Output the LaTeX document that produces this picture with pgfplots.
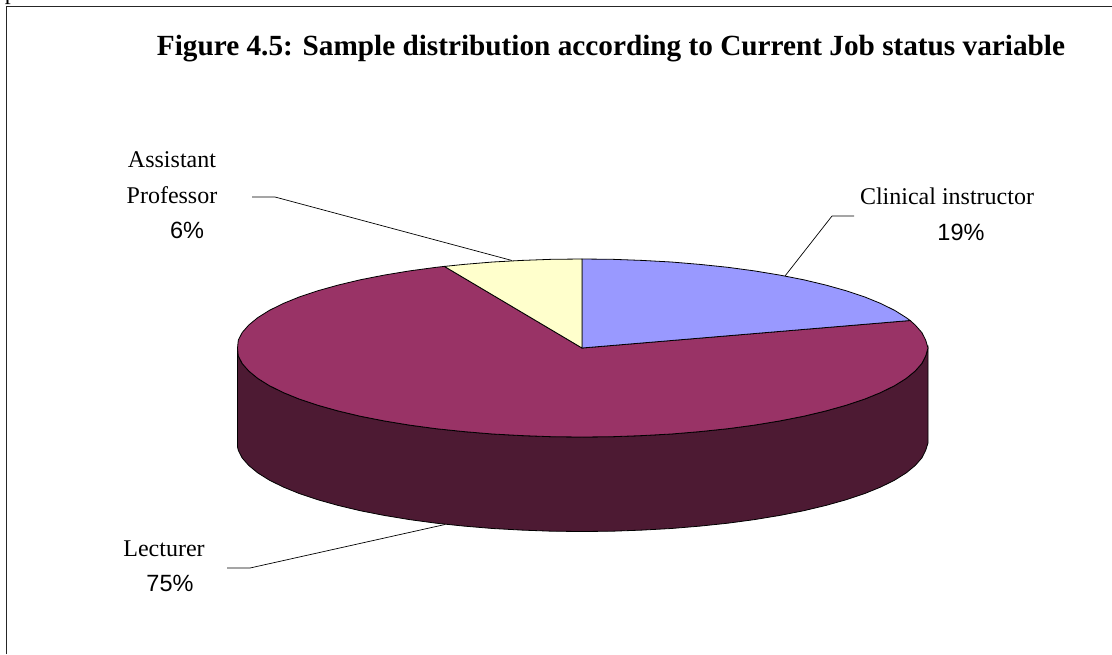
\documentclass[border=0pt]{standalone}
\usepackage{fontspec}
\setmainfont{Liberation Serif}
\newfontfamily\arial{Liberation Sans}
\usepackage{pgfplots}
\pgfplotsset{compat=1.18}
\definecolor{side}{HTML}{4D1A33}
\definecolor{lect}{HTML}{993366}
\definecolor{clin}{HTML}{9999FF}
\definecolor{asst}{HTML}{FFFFCC}
\newcommand{\lab}{\fontsize{24}{28}\selectfont}
\newcommand{\pct}{\arial\fontsize{23.5}{28}\selectfont}
\begin{document}
\begin{tikzpicture}
\path[use as bounding box] (0,0) rectangle (1112pt,654pt);
\begin{axis}[
    at={(0,0)}, anchor=south west,
    scale only axis,
    width=1112pt, height=654pt,
    xmin=0, xmax=1112,
    ymin=0, ymax=654,
    y dir=reverse,
    hide axis,
    clip=false,
    nodes={inner sep=0pt, outer sep=0pt, anchor=base},
]
% frame, open to the right and the bottom
\addplot[draw=black!85, line width=0.9pt] coordinates {(6,654) (6,6) (1112,6)};

% side of the pie
\addplot[fill=side, draw=black, line width=0.8pt] coordinates {
    (928,348) (925.7,355.8) (921.8,363.5) (915.2,371) (906.2,378.4) (894.7,385.6) (880.8,392.5)
    (864.6,399.1) (846.3,405.2) (826,410.9) (803.8,416.2) (779.9,420.9) (754.5,425.1)
    (727.8,428.7) (700,431.6) (671.3,434) (641.9,435.6) (612.1,436.7) (582,437)
    (551.9,436.7) (522.1,435.6) (492.7,434) (464,431.6) (436.2,428.7) (409.5,425.1)
    (384.1,420.9) (360.2,416.2) (338,410.9) (317.7,405.2) (299.4,399.1) (283.2,392.5)
    (269.3,385.6) (257.8,378.4) (248.8,371) (242.2,363.5) (238.3,355.8) (237.5,348)
    (237.5,447) (238.3,450.3) (242.2,458) (248.8,465.5) (257.8,472.9) (269.3,480.1) (283.2,487)
    (299.4,493.6) (317.7,499.7) (338,505.4) (360.2,510.7) (384.1,515.4) (409.5,519.6)
    (436.2,523.2) (464,526.1) (492.7,528.5) (522.1,530.1) (551.9,531.2) (582,531.5)
    (612.1,531.2) (641.9,530.1) (671.3,528.5) (700,526.1) (727.8,523.2) (754.5,519.6)
    (779.9,515.4) (803.8,510.7) (826,505.4) (846.3,499.7) (864.6,493.6) (880.8,487)
    (894.7,480.1) (906.2,472.9) (915.2,465.5) (921.8,458) (925.7,450.3) (928,443)
} --cycle;

% Lecturer 75%
\addplot[fill=lect, draw=black, line width=0.8pt] coordinates {
    (582,348) (910.1,320.5) (915.2,325) (921.8,332.5) (925.7,340.2) (928,348)
    (925.7,355.8) (921.8,363.5) (915.2,371) (906.2,378.4) (894.7,385.6) (880.8,392.5)
    (864.6,399.1) (846.3,405.2) (826,410.9) (803.8,416.2) (779.9,420.9) (754.5,425.1)
    (727.8,428.7) (700,431.6) (671.3,434) (641.9,435.6) (612.1,436.7) (582,437)
    (551.9,436.7) (522.1,435.6) (492.7,434) (464,431.6) (436.2,428.7) (409.5,425.1)
    (384.1,420.9) (360.2,416.2) (338,410.9) (317.7,405.2) (299.4,399.1) (283.2,392.5)
    (269.3,385.6) (257.8,378.4) (248.8,371) (242.2,363.5) (238.3,355.8) (237.5,348)
    (238.3,340.2) (242.2,332.5) (248.8,325) (257.8,317.6) (269.3,310.4) (283.2,303.5)
    (299.4,296.9) (317.7,290.8) (338,285.1) (360.2,279.8) (384.1,275.1) (409.5,270.9)
    (436.2,267.3) (444.4,266.4)
} --cycle;

% Clinical instructor 19%
\addplot[fill=clin, draw=black, line width=0.8pt] coordinates {
    (582,348) (582,259) (612.1,259.3) (641.9,260.4) (671.3,262) (700,264.4) (727.8,267.3)
    (754.5,270.9) (779.9,275.1) (803.8,279.8) (826,285.1) (846.3,290.8) (864.6,296.9)
    (880.8,303.5) (894.7,310.4) (906.2,317.6) (910.1,320.5)
} --cycle;

% Assistant Professor 6%
\addplot[fill=asst, draw=black, line width=0.8pt] coordinates {
    (582,348) (444.4,266.4) (464,264.4) (492.7,262) (522.1,260.4) (551.9,259.3) (582,259)
} --cycle;

% leader lines
\addplot[draw=black, line width=0.7pt] coordinates {(252,197) (275,197) (512,260.5)};
\addplot[draw=black, line width=0.7pt] coordinates {(854,216) (832,216) (785,276)};
\addplot[draw=black, line width=0.7pt] coordinates {(227,568) (250,568) (445,524.5)};

% text
\node at (axis cs:11,-0.5) {\fontsize{24}{28}\selectfont p};
\node at (axis cs:611,55) {\fontsize{29.25}{34}\selectfont\bfseries Figure 4.5: Sample distribution according to Current Job status variable};
\node at (axis cs:172,167) {\lab Assistant};
\node at (axis cs:172,203) {\lab Professor};
\node at (axis cs:187,238) {\pct 6\%};
\node at (axis cs:947,204) {\lab Clinical instructor};
\node at (axis cs:961,240) {\pct 19\%};
\node at (axis cs:164,556) {\lab Lecturer};
\node at (axis cs:170,591) {\pct 75\%};
\end{axis}
\end{tikzpicture}
\end{document}
